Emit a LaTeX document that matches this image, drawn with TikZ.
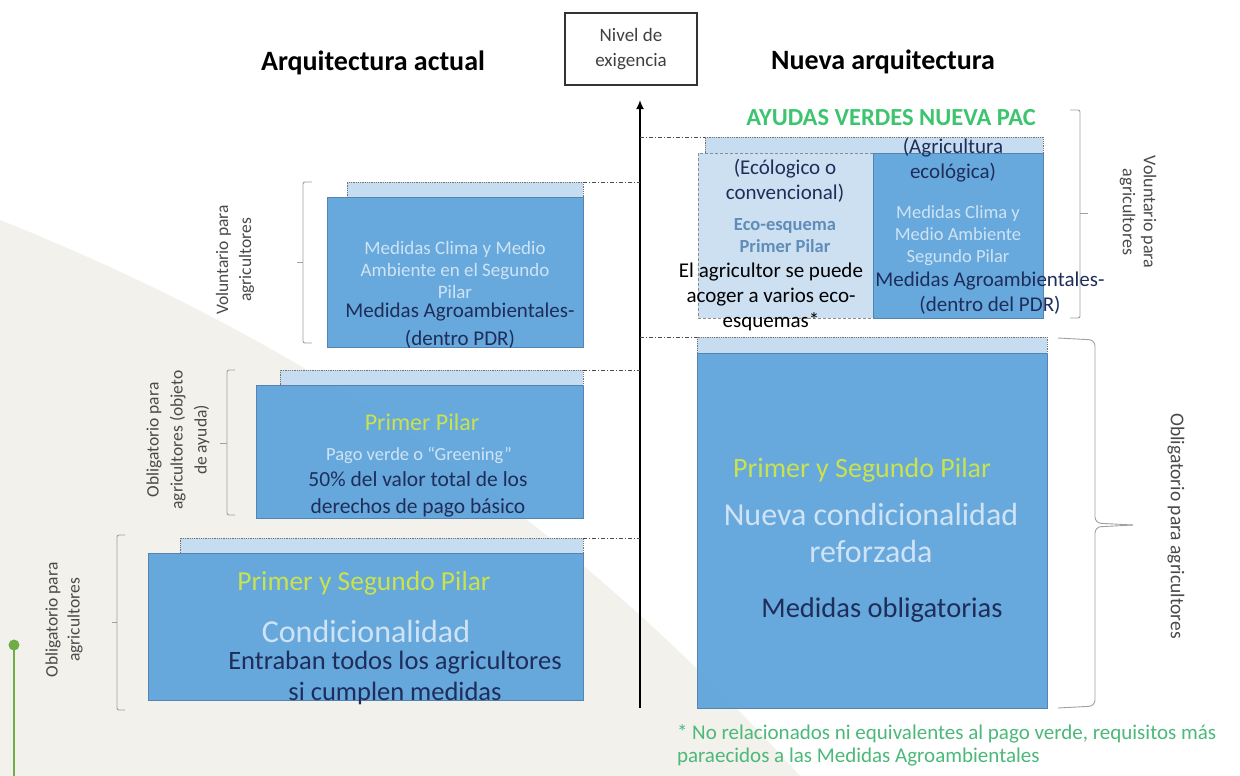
\documentclass[tikz,border=0pt]{standalone}
\usepackage{fontspec}
\setmainfont{Carlito}
\usetikzlibrary{arrows.meta}
\newcommand\myfs[2]{\fontsize{#1}{#2}\selectfont}
\definecolor{beige}{HTML}{F3F1EC}
\definecolor{boxblue}{HTML}{5BA2DA}
\definecolor{boxedge}{HTML}{5584B2}
\definecolor{stripblue}{HTML}{C6DDF1}
\definecolor{lightcol}{HTML}{CCE0F2}
\definecolor{navy}{HTML}{1F2D5A}
\definecolor{paletext}{HTML}{CFE3F5}
\definecolor{limetext}{HTML}{C9E24E}
\definecolor{ayuda}{HTML}{3DC46E}
\definecolor{foot}{HTML}{4CB87A}
\definecolor{ecotext}{HTML}{5F8DB8}
\definecolor{lblgray}{HTML}{4A4A4A}
\definecolor{bracegray}{HTML}{A0A0A0}
\definecolor{leafgreen}{HTML}{70AD47}
\begin{document}
\begin{tikzpicture}[x=1pt,y=-1pt,inner sep=0pt,outer sep=0pt,
  bluebox/.style={draw=boxedge,line width=0.6pt,fill=boxblue,fill opacity=0.92,anchor=north west},
  stripbox/.style={draw=black!55,densely dotted,line width=0.8pt,fill=stripblue,anchor=north west},
  lightbox/.style={draw=black!45,densely dashed,line width=0.6pt,fill=lightcol,anchor=north west},
  guide/.style={draw=black!70,line width=0.9pt,dash pattern=on 4pt off 2pt on 1pt off 2pt},
  bracket/.style={draw=bracegray,line width=0.9pt,rounded corners=2pt},
  sidelabel/.style={text=lblgray,align=center},
  pale/.style={text=paletext,align=center},
  dark/.style={text=navy,align=center},
  lime/.style={text=limetext,align=center}]
\useasboundingbox (0,0) rectangle (1240,776);
\fill[white] (0,0) rectangle (1240,776);
% background
\fill[beige] (0,220) .. controls (300,340) and (560,510) .. (800,776) -- (0,776) -- cycle;
\draw[leafgreen,line width=2.5pt] (14,645) -- (14,776);
\fill[leafgreen] (14,645) circle (5.5);

% titles
\node[font=\myfs{28}{32}\bfseries] (tl) at (373,63) {Arquitectura actual};
\node[font=\myfs{28}{32}\bfseries] (tr) at (883,62) {Nueva arquitectura};
\node[draw=black!80,line width=1.3pt,minimum width=132,minimum height=72,align=center,font=\myfs{19}{25},text=black!75] (nivel) at (631,49) {Nivel de\\exigencia};

% axis
\coordinate (axbot) at (640,708);
\coordinate (axtop) at (640,100);
\draw[line width=2.2pt,-{Latex[length=9pt,width=8pt]}] (axbot) -- (axtop);
\coordinate (gA) at (640,182);
\coordinate (gB) at (640,370);
\coordinate (gC) at (640,538);
\coordinate (gR1) at (640,137);
\coordinate (gR2) at (640,337);

% left boxes
\node[stripbox,minimum width=236,minimum height=15] (stripA) at (347,182) {};
\node[bluebox,minimum width=256,minimum height=150] (boxA) at (327,197) {};
\node[stripbox,minimum width=303,minimum height=15] (stripB) at (280,370) {};
\node[bluebox,minimum width=327,minimum height=133] (boxB) at (256,385) {};
\node[stripbox,minimum width=403,minimum height=15] (stripC) at (180,538) {};
\node[bluebox,minimum width=435,minimum height=147] (boxC) at (148,553) {};

\draw[guide] (stripA.north east) -- (gA);
\draw[guide] (stripB.north east) -- (gB);
\draw[guide] (stripC.north east) -- (gC);

% box A text
\node[pale,font=\myfs{19}{22}] (tA1) at (455,270) {Medidas Clima y Medio\\Ambiente en el Segundo\\Pilar};
\node[dark,font=\myfs{21}{28}] (tA2) at (460,326) {Medidas Agroambientales-\\(dentro PDR)};
% box B text
\node[lime,font=\myfs{24}{28}] (tB1) at (422,422) {Primer Pilar};
\node[pale,font=\myfs{18.5}{20}] (tB2) at (419,455) {Pago verde o “Greening”};
\node[dark,font=\myfs{21.5}{27}] (tB3) at (418,494) {50\% del valor total de los\\derechos de pago básico};
% box C text
\node[lime,font=\myfs{27.5}{30}] (tC1) at (364,583) {Primer y Segundo Pilar};
\node[pale,font=\myfs{32}{36}] (tC2) at (366,632) {Condicionalidad};
\node[dark,font=\myfs{26.5}{31}] (tC3) at (395,678) {Entraban todos los agricultores\\si cumplen medidas};

% right top group
\node[font=\myfs{24.5}{28}\bfseries,text=ayuda] (ayudas) at (891,118) {AYUDAS VERDES NUEVA PAC};
\node[stripbox,minimum width=338,minimum height=16] (stripR) at (705,137) {};
\node[lightbox,minimum width=175,minimum height=165] (ecocol) at (698,153) {};
\node[bluebox,minimum width=170,minimum height=165] (agrcol) at (873,153) {};
\draw[guide] (gR1) -- (stripR.north west);

\node[dark,font=\myfs{21}{25}] (tE1) at (785,181) {(Ecólogico o\\convencional)};
\node[font=\myfs{18.5}{22}\bfseries,text=ecotext,align=center] (tE2) at (785,236) {Eco-esquema\\Primer Pilar};
\node[text=black,align=center,font=\myfs{21}{25}] (tE3) at (771,297) {El agricultor se puede\\acoger a varios eco-\\esquemas*};
\node[dark,font=\myfs{21}{25}] (tG1) at (953,160) {(Agricultura\\ecológica)};
\node[pale,font=\myfs{18.5}{22}] (tG2) at (958,236) {Medidas Clima y\\Medio Ambiente\\Segundo Pilar};
\node[dark,font=\myfs{21}{25}] (tG3) at (990,293) {Medidas Agroambientales-\\(dentro del PDR)};

% right big box
\node[stripbox,minimum width=350,minimum height=16] (stripD) at (697,337) {};
\node[bluebox,minimum width=350,minimum height=355] (boxD) at (697,353) {};
\draw[guide] (gR2) -- (stripD.north west);
\node[lime,font=\myfs{28}{32}] (tD1) at (862,470) {Primer y Segundo Pilar};
\node[pale,font=\myfs{32}{37}] (tD2) at (871,533) {Nueva condicionalidad\\reforzada};
\node[dark,font=\myfs{28.5}{32}] (tD3) at (882,610) {Medidas obligatorias};

% brackets
\draw[bracket] (312,182) -- (303,182) -- (303,343) -- (312,343);
\draw[bracket] (303,262) -- (297,262);
\draw[bracket] (235,370) -- (227,370) -- (227,515) -- (235,515);
\draw[bracket] (227,443) -- (220,443);
\draw[bracket] (125,535) -- (117,535) -- (117,710) -- (125,710);
\draw[bracket] (117,622) -- (112,622);
\draw[bracket] (1070,110) -- (1080,110) -- (1080,318) -- (1070,318);
\draw[bracket] (1080,213) -- (1088,213);
\draw[bracket,rounded corners=6pt] (1058,338) -- (1095,340) -- (1095,523) -- (1133,525);
\draw[bracket,rounded corners=6pt] (1133,525) -- (1095,527) -- (1095,706) -- (1058,708);

% side labels
\node[sidelabel,rotate=90,font=\myfs{17.5}{23}] (lv) at (235,260) {Voluntario para\\agricultores};
\node[sidelabel,rotate=90,font=\myfs{17.5}{24}] (lo) at (178,440) {Obligatorio para\\agricultores (objeto\\de ayuda)};
\node[sidelabel,rotate=90,font=\myfs{17.5}{22}] (lc) at (64,620) {Obligatorio para\\agricultores};
\node[sidelabel,rotate=-90,font=\myfs{18}{21}] (rv) at (1138,212) {Voluntario para\\agricultores};
\node[sidelabel,rotate=-90,font=\myfs{19.5}{22}] (ro) at (1176,526) {Obligatorio para agricultores};

% footnote
\node[text=foot,align=left,anchor=north west,font=\myfs{21}{22.5}] (foot) at (677,725) {* No relacionados ni equivalentes al pago verde, requisitos más\\paraecidos a las Medidas Agroambientales};
\end{tikzpicture}
\end{document}
